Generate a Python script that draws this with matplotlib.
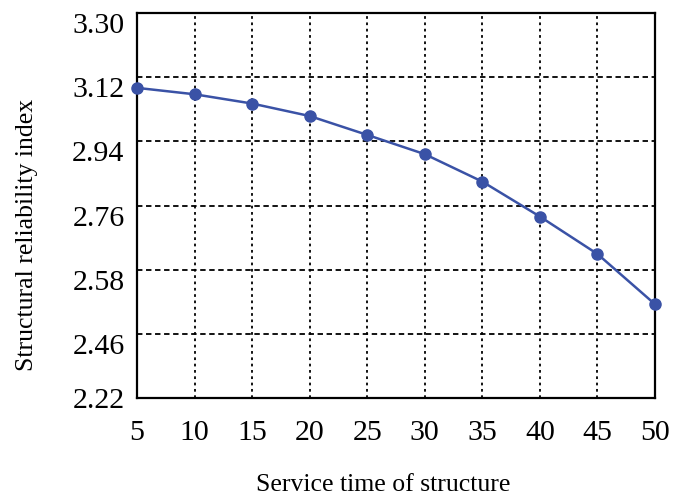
import numpy as np
import matplotlib
matplotlib.use("Agg")
import matplotlib.pyplot as plt
from matplotlib.transforms import ScaledTranslation

plt.rcParams['font.family'] = ['Liberation Serif', 'DejaVu Serif']

# service time (years) and reliability index
years = [5, 10, 15, 20, 25, 30, 35, 40, 45, 50]
beta = [3.090, 3.072, 3.046, 3.011, 2.958, 2.904, 2.827, 2.729, 2.624, 2.483]

ytick_vals = [2.22, 2.40, 2.58, 2.76, 2.94, 3.12, 3.30]
ytick_labels = ["2.22", "2.46", "2.58", "2.76", "2.94", "3.12", "3.30"]
xtick_vals = [5, 10, 15, 20, 25, 30, 35, 40, 45, 50]

fig = plt.figure(figsize=(6.73, 4.97), dpi=100)
ax = fig.add_axes([137/673, 1 - 398/497, (655-137)/673, (398-13)/497])

ax.plot(years, beta, color='#3a52a6', lw=1.8, marker='o', ms=8, zorder=3,
        clip_on=False)

ax.set_xlim(5, 50)
ax.set_ylim(2.22, 3.30)
ax.set_xticks(xtick_vals)
ax.set_yticks(ytick_vals)
ax.set_yticklabels(ytick_labels)

for y in ytick_vals[1:-1]:
    ax.axhline(y, color='black', lw=1.3, ls=(0, (3, 2)), zorder=1)
for x in xtick_vals[1:-1]:
    ax.axvline(x, color='black', lw=1.3, ls=(0, (1.5, 2)), zorder=1)

ax.tick_params(length=0, labelsize=21.5)
ax.tick_params(axis='x', pad=16)
ax.tick_params(axis='y', pad=9)

# labels in the original sit a little below their grid lines
for lab in ax.get_yticklabels()[1:]:
    lab.set_transform(lab.get_transform() + ScaledTranslation(0, -10/100, fig.dpi_scale_trans))

for sp in ax.spines.values():
    sp.set_linewidth(1.6)

ax.set_xlabel("Service time of structure", fontsize=18.5)
ax.set_ylabel("Structural reliability index", fontsize=18.5)
ax.xaxis.set_label_coords((383-137)/518, -(474-398)/385)
ax.yaxis.set_label_coords(-(137-38)/518, (398-235)/385)

fig.savefig("out.png", dpi=100)
